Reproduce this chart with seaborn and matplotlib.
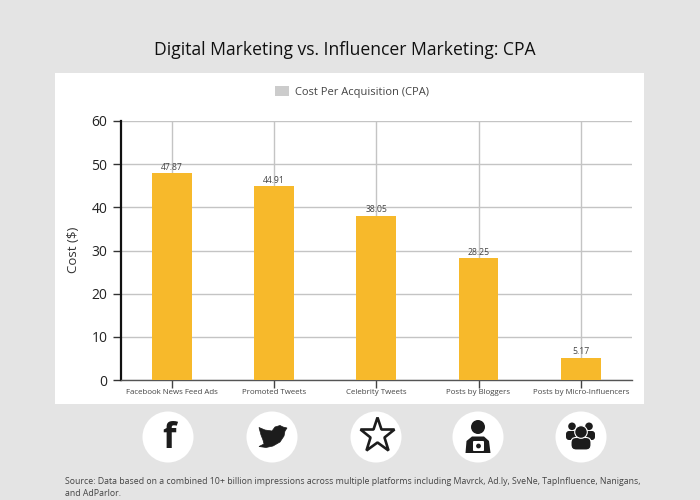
import seaborn as sns
import matplotlib.pyplot as plt
import pandas as pd
from matplotlib.patches import Circle, Rectangle, Patch, Polygon, FancyBboxPatch

categories = ['Facebook News Feed Ads', 'Promoted Tweets', 'Celebrity Tweets',
              'Posts by Bloggers', 'Posts by Micro-Influencers']
costs = [47.87, 44.91, 38.05, 28.25, 5.17]
y_ticks = [0, 10, 20, 30, 40, 50, 60]
title = 'Digital Marketing vs. Influencer Marketing: CPA'
legend_label = 'Cost Per Acquisition (CPA)'
source = ('Source: Data based on a combined 10+ billion impressions across multiple platforms '
          'including Mavrck, Ad.ly, SveNe, TapInfluence, Nanigans,\nand AdParlor.')

W, H = 700, 500
BG = '#e4e4e4'
DARK = '#1c1c1c'

sns.set_theme(style='white')
plt.rcParams['font.family'] = ['Open Sans', 'DejaVu Sans']

df = pd.DataFrame({'category': categories, 'cost': costs})

fig = plt.figure(figsize=(W / 100, H / 100), dpi=100, facecolor=BG)

# overlay in pixel coordinates for the panel, icons and captions
bg = fig.add_axes([0, 0, 1, 1], zorder=0)
bg.set_xlim(0, W)
bg.set_ylim(H, 0)
bg.axis('off')
bg.add_patch(Rectangle((55, 73), 589, 331, fc='white', ec='none'))

ax = fig.add_axes([120.5 / W, 1 - 380 / H, 511.5 / W, 259 / H], zorder=1)
ax.patch.set_alpha(0)
sns.barplot(data=df, x='category', y='cost', color='#f7b92b', width=0.39,
            saturation=1, ax=ax, zorder=3, linewidth=0)
ax.set_ylim(0, 60)
ax.set_yticks(y_ticks)
ax.set_xlim(-0.5, 4.5)
ax.set_axisbelow(True)
ax.grid(True, axis='both', color='#c4c4c4', linewidth=1)
ax.bar_label(ax.containers[0], fmt='%.2f', fontsize=6.2, color='#444444', padding=1)

sns.despine(ax=ax)
ax.spines['left'].set_color('#111111')
ax.spines['left'].set_linewidth(1.6)
ax.spines['bottom'].set_color('#555555')
ax.spines['bottom'].set_linewidth(1)
ax.tick_params(axis='y', length=6, width=1, color='#333333', labelsize=10,
               labelcolor='#222222', pad=3.5, left=True)
ax.tick_params(axis='x', length=6, width=1, color='#444444', labelsize=5.7,
               labelcolor='#444444', pad=0.5, bottom=True)
ax.set_xlabel('')
ax.set_ylabel('Cost ($)', fontsize=9.5, color='#333333')
ax.yaxis.set_label_coords((80 - 120.5) / 511.5, (380 - 250) / 259)

ax.legend(handles=[Patch(fc='#cccccc', ec='none', label=legend_label)],
          loc='center', bbox_to_anchor=(0.452, 1.112), frameon=False, fontsize=8,
          labelcolor='#444444', handlelength=1.3, handleheight=1, handletextpad=0.5)

fig.text(345 / W, 1 - 50 / H, title, ha='center', va='center', fontsize=12.65, color='#111111')
fig.text(65 / W, 1 - 487.5 / H, source, ha='left', va='center', fontsize=6.3, color='#444444',
         linespacing=1.3)

# icon row
centers = [168, 272, 376, 478, 581]
for cx in centers:
    bg.add_patch(Circle((cx, 437), 25.5, fc='white', ec='none'))

bg.text(169, 439, 'f', ha='center', va='center', fontsize=25, fontweight='bold', color=DARK)

# twitter bird
bird = [(259, 427.5), (265, 430), (272, 431), (275, 427), (280, 425.5), (283, 427), (287, 428),
        (285, 431), (284, 436), (280, 442), (273, 446), (266, 447.5), (259, 446.5), (264, 444),
        (263, 440), (261, 435)]
bg.add_patch(Polygon(bird, closed=True, fc=DARK, ec=DARK, lw=0.5))

# star
bg.plot([376.5], [435], marker='*', ms=26, mfc='white', mec=DARK, mew=1.9)

# blogger with camera
bg.add_patch(Circle((478, 427), 7, fc=DARK, ec='none'))
bg.add_patch(Polygon([(465.5, 453), (466.5, 441), (472, 436.5), (484, 436.5), (489, 441), (490.5, 453)],
                     closed=True, fc=DARK, ec='none'))
bg.add_patch(FancyBboxPatch((473, 441), 11, 10, boxstyle='round,pad=0,rounding_size=1',
                            fc='white', ec='none'))
bg.add_patch(Circle((478.5, 446), 2.4, fc=DARK, ec='none'))

# group
for gx in [572, 589]:
    bg.add_patch(Circle((gx, 426.3), 3.8, fc=DARK, ec='none'))
    bg.add_patch(FancyBboxPatch((gx - 6, 431), 12, 9, boxstyle='round,pad=0,rounding_size=3',
                                fc=DARK, ec='none'))
bg.add_patch(FancyBboxPatch((571, 437.5), 20, 12.5, boxstyle='round,pad=0,rounding_size=5',
                            fc=DARK, ec='white', lw=0.8))
bg.add_patch(Circle((581, 432), 6.3, fc=DARK, ec='white', lw=0.8))

fig.savefig('out.png', dpi=100, facecolor=BG)
